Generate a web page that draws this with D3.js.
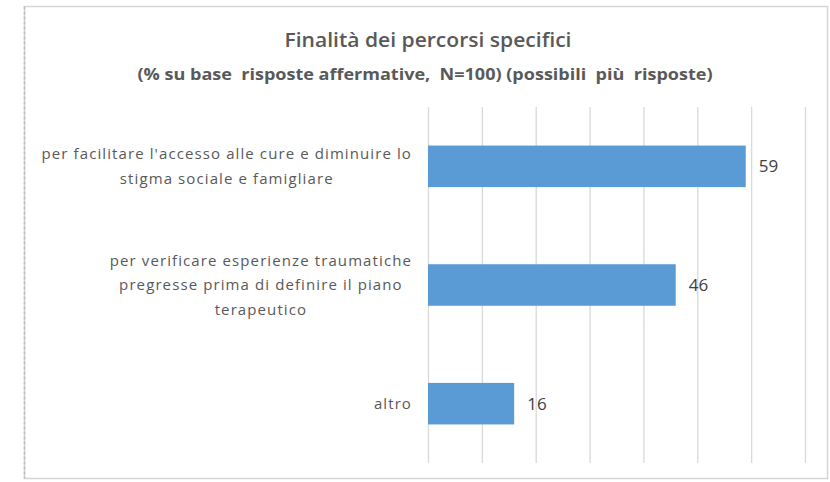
<!DOCTYPE html>
<html>
<head>
<meta charset="utf-8">
<script src="https://cdn.jsdelivr.net/npm/d3@7"></script>
<style>
  html, body { margin: 0; padding: 0; background: #ffffff; }
  svg { display: block; }
  text { font-family: "Open Sans", Lato, sans-serif; }
</style>
</head>
<body>
<svg id="chart" width="830" height="482"></svg>
<script>
// Data
const categories = [
  ["per facilitare l'accesso alle cure e diminuire lo", "stigma sociale e famigliare"],
  ["per verificare esperienze traumatiche", "pregresse prima di definire il piano", "terapeutico"],
  ["altro"]
];
const values = [59, 46, 16];
const xTicks = [0, 10, 20, 30, 40, 50, 60, 70];
const title = "Finalità dei percorsi specifici";
const subtitle = "(% su base  risposte affermative,  N=100) (possibili  più  risposte)";

const svg = d3.select("#chart");

// Outer frame
svg.append("rect")
  .attr("x", 24.5).attr("y", 6.5)
  .attr("width", 803).attr("height", 472)
  .attr("fill", "#ffffff")
  .attr("stroke", "#d6d6d6").attr("stroke-width", 1.5);
// Left edge of the frame is a slightly darker dotted line
svg.append("line")
  .attr("x1", 24.5).attr("x2", 24.5)
  .attr("y1", 6.5).attr("y2", 478.5)
  .attr("stroke", "#bdbdbd").attr("stroke-width", 1.5)
  .attr("stroke-dasharray", "3,2");

// Titles
svg.append("text")
  .attr("x", 428).attr("y", 47)
  .attr("text-anchor", "middle")
  .attr("font-size", 20).attr("font-weight", 600)
  .attr("fill", "#595959")
  .attr("textLength", 287).attr("lengthAdjust", "spacingAndGlyphs")
  .text(title);

svg.append("text")
  .attr("x", 425).attr("y", 80)
  .attr("text-anchor", "middle")
  .attr("font-size", 16).attr("font-weight", 700)
  .attr("fill", "#595959")
  .attr("textLength", 575).attr("lengthAdjust", "spacingAndGlyphs")
  .style("white-space", "pre")
  .text(subtitle);

// Plot area
const plot = { left: 428, right: 805, top: 107, bottom: 463 };

const x = d3.scaleLinear()
  .domain([0, 70])
  .range([plot.left, plot.right]);

const y = d3.scaleBand()
  .domain(d3.range(categories.length))
  .range([plot.top, plot.bottom])
  .paddingInner(0.65)
  .paddingOuter(0.325);

// Vertical gridlines
const grid = svg.append("g")
  .attr("transform", `translate(0,${plot.bottom})`)
  .call(d3.axisBottom(x)
    .tickValues(xTicks)
    .tickSize(-(plot.bottom - plot.top))
    .tickFormat(""));
grid.select(".domain").remove();
grid.selectAll(".tick line")
  .attr("stroke", "#d9d9d9")
  .attr("stroke-width", 1.3);

// Bars
svg.append("g").selectAll("rect")
  .data(values)
  .join("rect")
  .attr("x", x(0))
  .attr("y", (d, i) => y(i))
  .attr("width", d => x(d) - x(0))
  .attr("height", y.bandwidth())
  .attr("fill", "#5b9bd5");

// Value labels
svg.append("g").selectAll("text")
  .data(values)
  .join("text")
  .attr("x", d => x(d) + 13)
  .attr("y", (d, i) => y(i) + y.bandwidth() / 2)
  .attr("dy", "0.36em")
  .attr("font-size", 17)
  .attr("fill", "#404040")
  .text(d => d);

// Category labels: lines centred on each other, block right-aligned to the axis
const labelRight = 412;
const lineGap = 24.5;
const labels = svg.append("g");
categories.forEach((lines, i) => {
  const cy = y(i) + y.bandwidth() / 2;
  const g = labels.append("g");
  const texts = g.selectAll("text")
    .data(lines)
    .join("text")
    .attr("y", (d, j) => cy + (j - (lines.length - 1) / 2) * lineGap)
    .attr("dy", "0.35em")
    .attr("text-anchor", "middle")
    .attr("font-size", 15)
    .attr("letter-spacing", 1.1)
    .attr("fill", "#595959")
    .text(d => d);
  let maxW = 0;
  texts.each(function () { maxW = Math.max(maxW, this.getComputedTextLength()); });
  texts.attr("x", labelRight - maxW / 2);
});
</script>
</body>
</html>
